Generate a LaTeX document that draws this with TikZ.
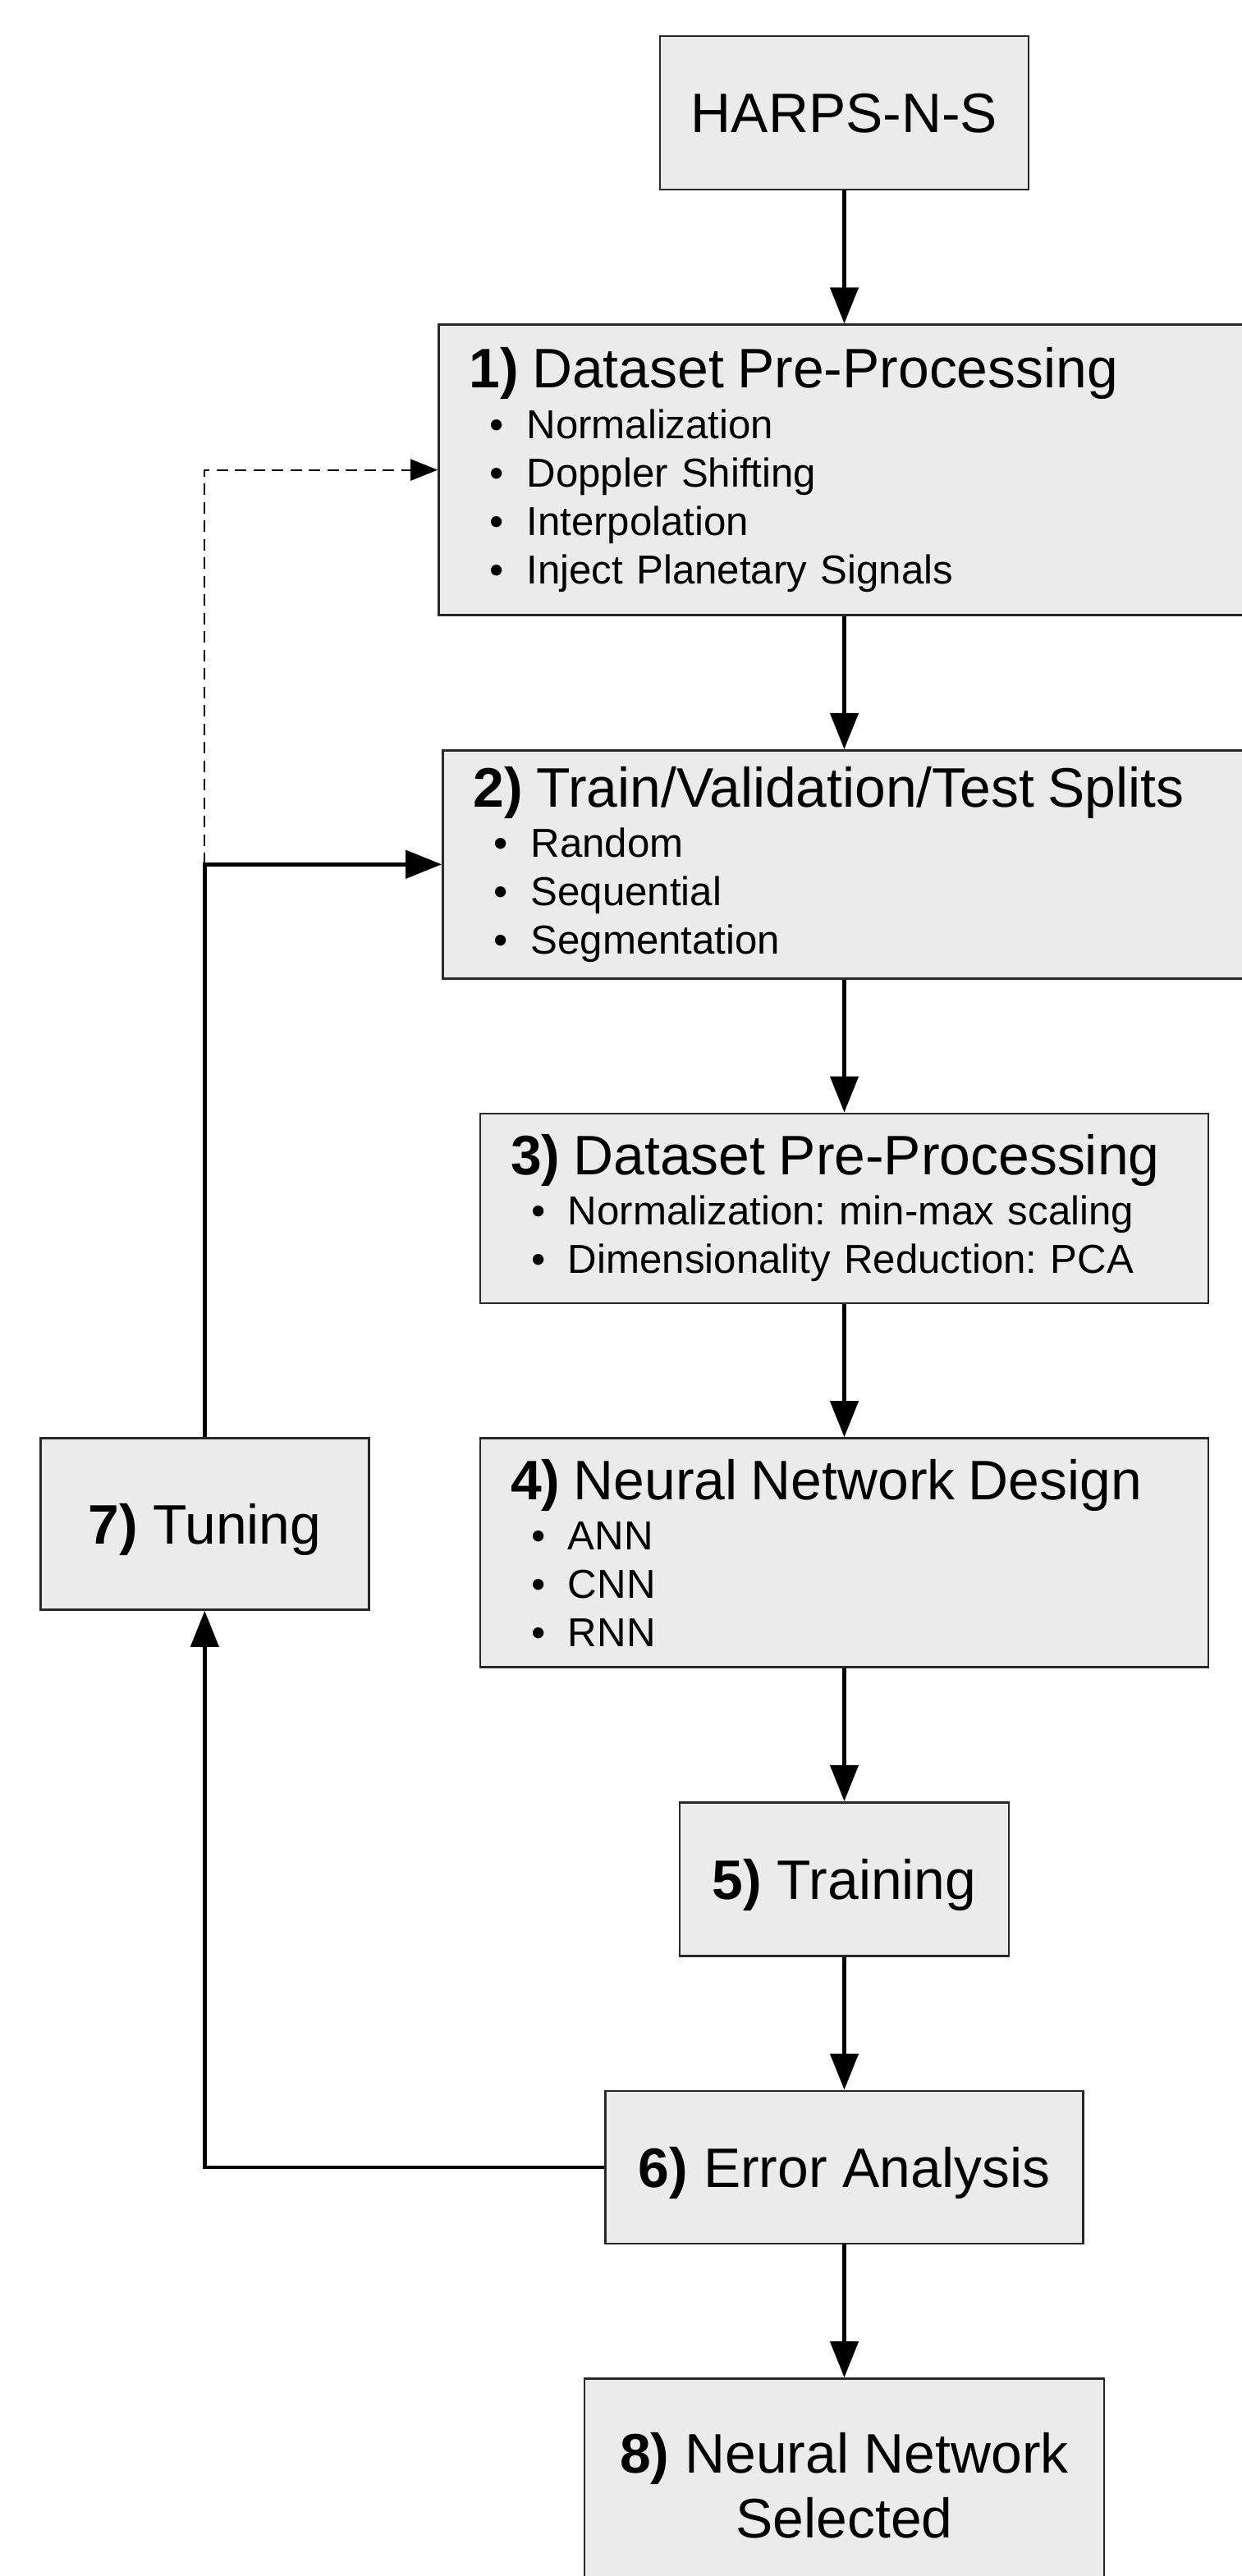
\documentclass[tikz,border=0pt]{standalone}
\usepackage{fontspec}
\setmainfont{Liberation Sans}
\usetikzlibrary{arrows.meta,positioning}
\definecolor{boxgray}{RGB}{235,235,235}
\definecolor{edgegray}{RGB}{40,40,40}
\newcommand{\boxtitle}[2]{{\fontsize{19.3}{22.5}\selectfont\textbf{#1)} #2}}
\newcommand{\bitem}[1]{\hspace*{0.25cm}\makebox[0.45cm][l]{\textbullet}#1}
\frenchspacing

\begin{document}
\begin{tikzpicture}[
    node distance=1.62cm,
    box/.style={draw=edgegray, line width=0.75pt, fill=boxgray, inner sep=0pt, align=center, font=\fontsize{19.3}{22.5}\selectfont},
    onebox/.style={box, text depth=0pt},
    listbox/.style={box, align=left, inner xsep=0.37cm, font=\fontsize{14}{16.8}\selectfont},
    arr/.style={-{Triangle[length=4.4mm,width=3.4mm]}, line width=1.3pt},
    dasharr/.style={-{Triangle[length=3.3mm,width=2.6mm]}, line width=0.6pt, dash pattern=on 4pt off 2.4pt}
]
\useasboundingbox (0,0) rectangle (15.12,-31.39);
\node[onebox, minimum width=4.49cm, minimum height=1.87cm] (harps) at (10.285,-1.375) {HARPS-N-S};
\node[listbox, text width=9.14cm, minimum height=3.54cm, below=of harps] (prep) {\boxtitle{1}{Dataset Pre-Processing}\\[0.6pt] \bitem{Normalization}\\ \bitem{Doppler Shifting}\\ \bitem{Interpolation}\\ \bitem{Inject Planetary Signals}};
\node[listbox, text width=9.04cm, minimum height=2.78cm, below=of prep] (split) {\boxtitle{2}{Train/Validation/Test Splits}\\[0.6pt] \bitem{Random}\\ \bitem{Sequential}\\ \bitem{Segmentation}};
\node[listbox, text width=8.13cm, minimum height=2.31cm, below=of split] (scale) {\boxtitle{3}{Dataset Pre-Processing}\\[0.6pt] \bitem{Normalization: min-max scaling}\\ \bitem{Dimensionality Reduction: PCA}};
\node[listbox, text width=8.13cm, minimum height=2.79cm, below=of scale] (design) {\boxtitle{4}{Neural Network Design}\\[0.6pt] \bitem{ANN}\\ \bitem{CNN}\\ \bitem{RNN}};
\node[onebox, minimum width=4.01cm, minimum height=1.87cm, below=of design] (train) {\textbf{5)} Training};
\node[onebox, minimum width=5.82cm, minimum height=1.86cm, below=of train] (err) {\textbf{6)} Error Analysis};
\node[box, minimum width=6.33cm, minimum height=2.6cm, below=of err] (select) {\textbf{8)} Neural Network\\Selected};
\node[onebox, minimum width=4.0cm, minimum height=2.09cm, anchor=north east] (tune) at ([xshift=-1.33cm]design.north west) {\textbf{7)} Tuning};
\draw[arr] (harps) -- (prep);
\draw[arr] (prep) -- (split);
\draw[arr] (split) -- (scale);
\draw[arr] (scale) -- (design);
\draw[arr] (design) -- (train);
\draw[arr] (train) -- (err);
\draw[arr] (err) -- (select);
\draw[arr] (err.west) -| (tune.south);
\draw[arr] (tune.north) |- (split.west);
\draw[dasharr] (tune.north |- split.west) |- (prep.west);
\end{tikzpicture}
\end{document}
